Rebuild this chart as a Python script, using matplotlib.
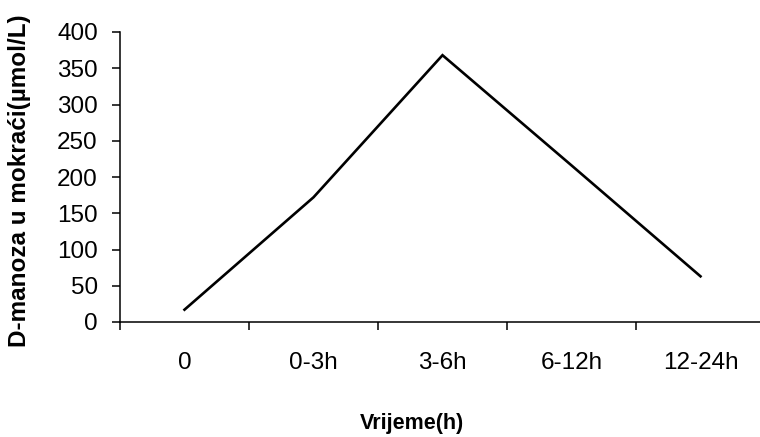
import matplotlib
matplotlib.use("Agg")
from matplotlib import pyplot as plt
from matplotlib.ticker import FixedLocator, NullFormatter

# data
categories = ["0", "0-3h", "3-6h", "6-12h", "12-24h"]
manoza = [17, 172, 368, 216, 63]
y_ticks = [0, 50, 100, 150, 200, 250, 300, 350, 400]

plt.rcParams['font.family'] = ['Liberation Sans', 'DejaVu Sans']

fig = plt.figure(figsize=(7.6, 4.37), dpi=100)
ax = fig.add_axes([120 / 760, 115 / 437, 645 / 760, 290 / 437])

# categories sit in the middle of each slot, like an Excel category axis
centers = [i + 0.5 for i in range(len(categories))]
ax.plot(centers, manoza, color='black', linewidth=1.9, solid_joinstyle='miter')

ax.set_xlim(0, len(categories))
ax.set_ylim(0, 400)
ax.set_yticks(y_ticks)

# boundary ticks without labels, labels on the category centres
ax.xaxis.set_major_locator(FixedLocator(range(len(categories) + 1)))
ax.xaxis.set_major_formatter(NullFormatter())
ax.xaxis.set_minor_locator(FixedLocator(centers))
ax.set_xticklabels(categories, minor=True)
ax.tick_params(axis='x', which='major', direction='out', length=6, width=1.1, color='black')
ax.tick_params(axis='x', which='minor', length=0, pad=21.5, labelsize=17.5)
ax.tick_params(axis='y', direction='out', length=6, width=1.1, pad=10, labelsize=17.5)

for side in ['top', 'right']:
    ax.spines[side].set_visible(False)
for side in ['left', 'bottom']:
    ax.spines[side].set_linewidth(1.1)
    ax.spines[side].set_color('black')

ax.set_ylabel('D-manoza u mokraći(µmol/L)', fontsize=17.5, fontweight='bold')
ax.yaxis.set_label_coords(-0.138, 0.486)
ax.set_xlabel('Vrijeme(h)', fontsize=15.5, fontweight='bold')
ax.xaxis.set_label_coords(0.453, -0.315)

fig.savefig('out.png', dpi=100)
